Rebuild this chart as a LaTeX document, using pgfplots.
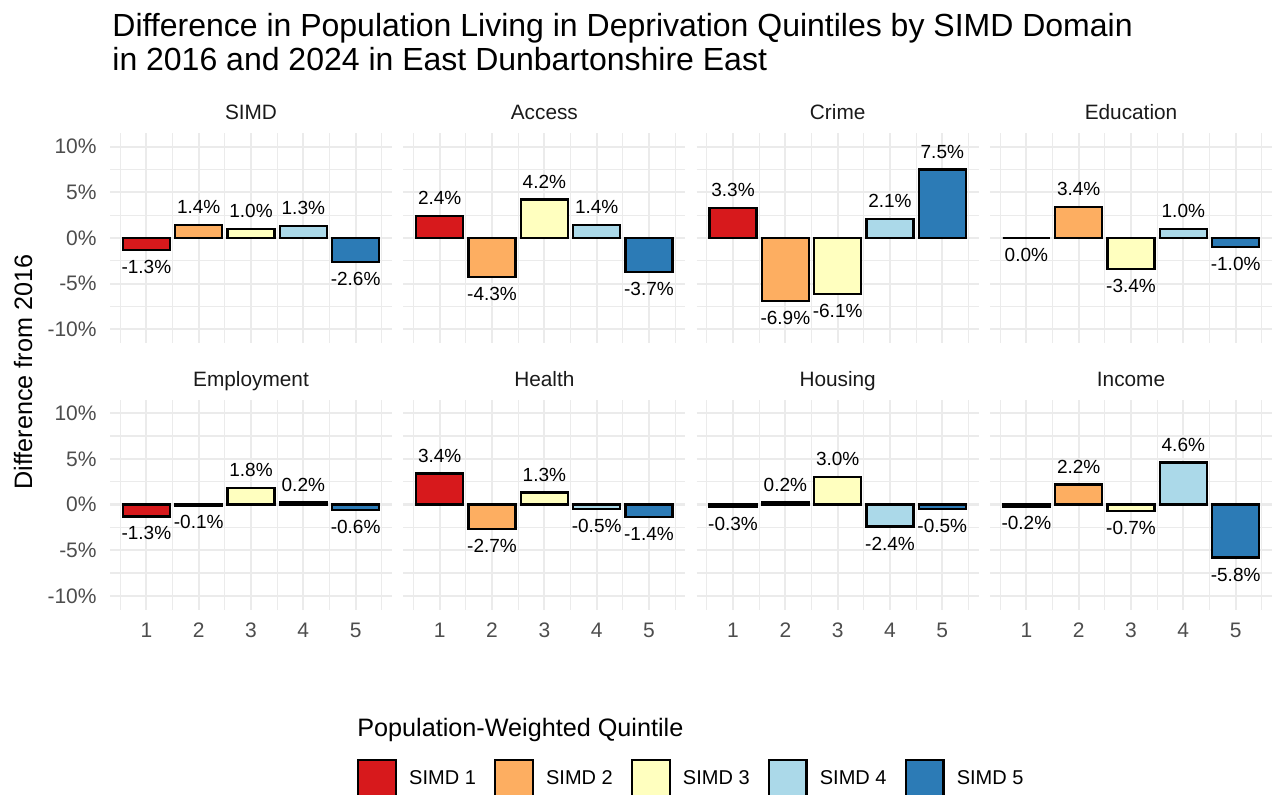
\documentclass[border=0pt]{standalone}
\usepackage{fontspec}
\setmainfont{Liberation Sans}
\usepackage{pgfplots}
\pgfplotsset{compat=1.18}
\definecolor{q1}{HTML}{D7191C}
\definecolor{q2}{HTML}{FDAE61}
\definecolor{q3}{HTML}{FFFFBF}
\definecolor{q4}{HTML}{ABD9E9}
\definecolor{q5}{HTML}{2C7BB6}
\definecolor{gridc}{HTML}{EBEBEB}
\definecolor{tickc}{HTML}{4D4D4D}
\definecolor{stripc}{HTML}{1A1A1A}

\pgfplotsset{
 panel/.style={
  scale only axis, width=141pt, height=105pt,
  anchor=north west,
  xmin=0.305, xmax=5.695, ymin=-11.5, ymax=11.5,
  xtick={1,2,3,4,5}, minor xtick={0.5,1.5,2.5,3.5,4.5,5.5},
  ytick={-10,-5,0,5,10}, minor ytick={-7.5,-2.5,2.5,7.5},
  xticklabels={}, yticklabels={},
  grid=both,
  major grid style={draw=gridc, line width=1.1pt},
  minor grid style={draw=gridc, line width=0.6pt},
  axis line style={draw=none},
  major tick length=0pt, minor tick length=0pt,
  tick style={draw=none},
  ybar, bar width=0.9, bar shift=0pt,
  clip=false,
  every axis title/.style={at={(0.5,1)}, anchor=base, yshift=6.6pt, font=\fontsize{10.4}{12}\selectfont, text=stripc, inner sep=0pt},
  point meta=explicit symbolic,
  nodes near coords={\pgfplotspointmeta\%},
  visualization depends on={y \as \rawy},
  every node near coord/.append style={anchor=center, inner sep=0pt, font=\fontsize{9.5}{11}\selectfont, text=black, yshift={ifthenelse(\rawy>0,9,-8.5)}},
  every axis plot/.append style={draw=black, line width=1.2pt},
  ticklabel style={font=\fontsize{10.5}{12}\selectfont, text=tickc},
 },
 showy/.style={yticklabels={-10\%,-5\%,0\%,5\%,10\%}, yticklabel style={anchor=east, inner sep=0pt, xshift=-6.5pt}},
 showx/.style={xticklabels={1,2,3,4,5}, xticklabel style={anchor=center, inner sep=0pt, yshift=-10.25pt}},
}

\newcommand{\panel}[7]{%
\begin{axis}[panel,#1,title={#2}]
\addplot[fill=q1] coordinates {(1,#3) [#3]};
\addplot[fill=q2] coordinates {(2,#4) [#4]};
\addplot[fill=q3] coordinates {(3,#5) [#5]};
\addplot[fill=q4] coordinates {(4,#6) [#6]};
\addplot[fill=q5] coordinates {(5,#7) [#7]};
\end{axis}}

\begin{document}
\begin{tikzpicture}
\path[use as bounding box] (0pt,0pt) rectangle (639.5pt,-397pt);

% titles
\node[anchor=base west, inner sep=0pt, font=\fontsize{16}{17}\selectfont] at (56pt,-18pt) {Difference in Population Living in Deprivation Quintiles by SIMD Domain};
\node[anchor=base west, inner sep=0pt, font=\fontsize{16}{17}\selectfont] at (56pt,-35pt) {in 2016 and 2024 in East Dunbartonshire East};
\node[rotate=90, anchor=center, inner sep=0pt, font=\fontsize{12.6}{14}\selectfont] at (11.5pt,-186pt) {Difference from 2016};

% top row
\panel{at={(55pt,-66.5pt)},showy}{SIMD}{-1.3}{1.4}{1.0}{1.3}{-2.6}
\panel{at={(201.67pt,-66.5pt)}}{Access}{2.4}{-4.3}{4.2}{1.4}{-3.7}
\panel{at={(348.33pt,-66.5pt)}}{Crime}{3.3}{-6.9}{-6.1}{2.1}{7.5}
\panel{at={(495pt,-66.5pt)}}{Education}{0.0}{3.4}{-3.4}{1.0}{-1.0}

% bottom row
\begin{axis}[panel,at={(55pt,-199.75pt)},showy,showx,title={Employment},
  legend columns=5,
  legend style={at={(0.876,-0.7105)}, anchor=north west, draw=none, fill=none,
    inner sep=0pt, outer sep=0pt, column sep=0pt,
    font=\fontsize{10}{12}\selectfont,
    nodes={inner sep=0pt},
    /tikz/every odd column/.append style={column sep=6pt},
    /tikz/every even column/.append style={column sep=9pt}},
  legend image code/.code={\draw[#1, line width=1.2pt] (0.3pt,-9.45pt) rectangle (19.2pt,9.45pt);},
  ]
\addplot[fill=q1] coordinates {(1,-1.3) [-1.3]};
\addplot[fill=q2] coordinates {(2,-0.1) [-0.1]};
\addplot[fill=q3] coordinates {(3,1.8) [1.8]};
\addplot[fill=q4] coordinates {(4,0.2) [0.2]};
\addplot[fill=q5] coordinates {(5,-0.6) [-0.6]};
\legend{SIMD 1,SIMD 2,SIMD 3,SIMD 4,SIMD 5}
\end{axis}
\panel{at={(201.67pt,-199.75pt)},showx}{Health}{3.4}{-2.7}{1.3}{-0.5}{-1.4}
\panel{at={(348.33pt,-199.75pt)},showx}{Housing}{-0.3}{0.2}{3.0}{-2.4}{-0.5}
\panel{at={(495pt,-199.75pt)},showx}{Income}{-0.2}{2.2}{-0.7}{4.6}{-5.8}

% legend title
\node[anchor=west, inner sep=0pt, font=\fontsize{12.6}{14}\selectfont] at (178.5pt,-364.75pt) {Population-Weighted Quintile};
\end{tikzpicture}
\end{document}
